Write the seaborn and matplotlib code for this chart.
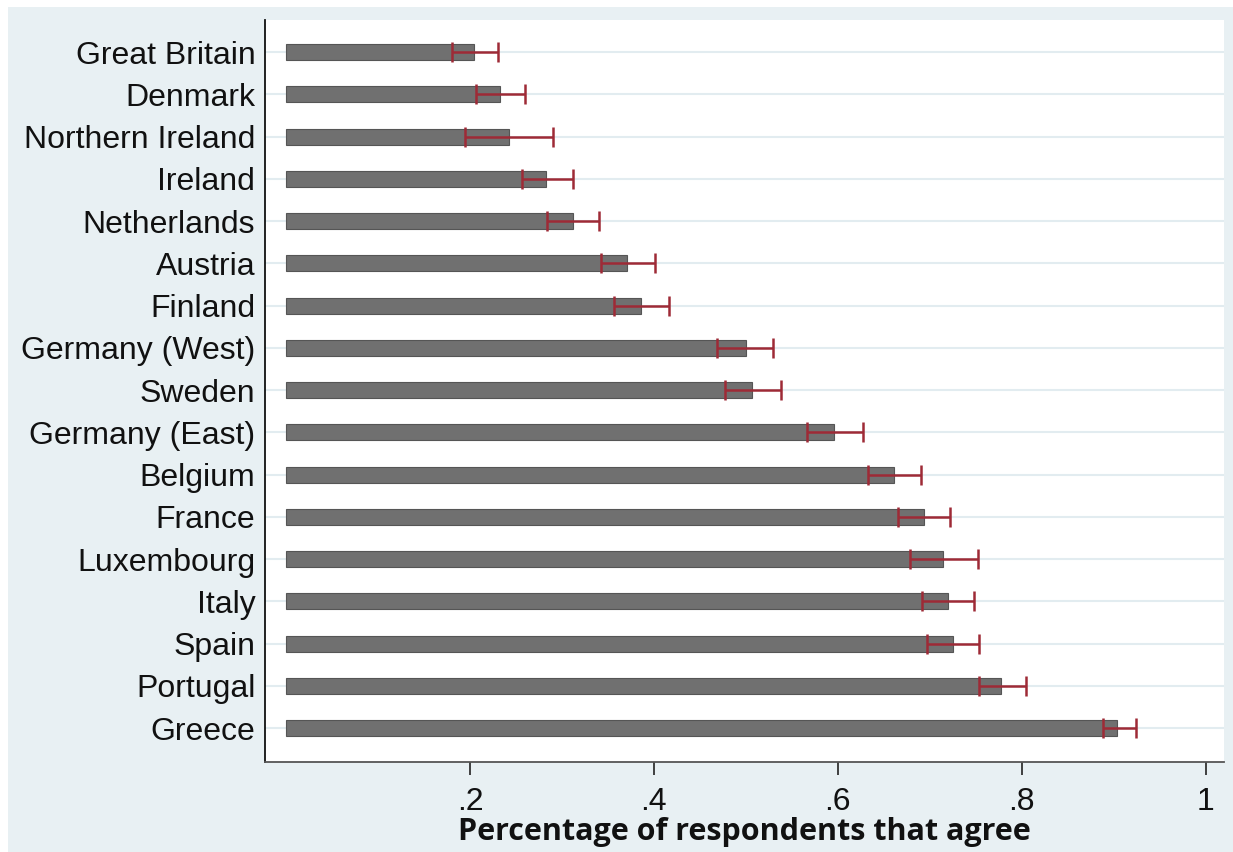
import matplotlib
matplotlib.use("Agg")
import matplotlib.pyplot as plt
from matplotlib.patches import Rectangle
import numpy as np
import pandas as pd
import seaborn as sns

countries = ["Great Britain", "Denmark", "Northern Ireland", "Ireland", "Netherlands",
             "Austria", "Finland", "Germany (West)", "Sweden", "Germany (East)",
             "Belgium", "France", "Luxembourg", "Italy", "Spain", "Portugal", "Greece"]
share_agree = [0.204, 0.233, 0.242, 0.283, 0.312, 0.371, 0.386, 0.500, 0.507, 0.596,
               0.661, 0.694, 0.714, 0.720, 0.725, 0.778, 0.904]
ci_low = [0.180, 0.207, 0.195, 0.256, 0.284, 0.342, 0.357, 0.469, 0.477, 0.566,
          0.633, 0.665, 0.678, 0.692, 0.697, 0.753, 0.888]
ci_high = [0.230, 0.260, 0.290, 0.312, 0.340, 0.401, 0.416, 0.530, 0.538, 0.627,
           0.690, 0.722, 0.752, 0.748, 0.753, 0.805, 0.924]
tick_values = [0.2, 0.4, 0.6, 0.8, 1.0]
tick_labels = [".2", ".4", ".6", ".8", "1"]

df = pd.DataFrame({"country": countries, "share": share_agree,
                   "lo": ci_low, "hi": ci_high})

sns.set_theme(style="white")
plt.rcParams["font.family"] = ["Liberation Sans", "DejaVu Sans"]

bg = "#e8f0f3"
fig = plt.figure(figsize=(12.33, 8.52), dpi=100)
fig.patch.set_facecolor(bg)
# thin white margin along the top and left edges
fig.patches.append(Rectangle((0, 1 - 7 / 852), 1, 7 / 852, transform=fig.transFigure,
                             facecolor="white", edgecolor="none", zorder=-10))
fig.patches.append(Rectangle((0, 0), 8 / 1233, 1, transform=fig.transFigure,
                             facecolor="white", edgecolor="none", zorder=-10))

ax = fig.add_axes([265 / 1233, 1 - 762 / 852, (1224 - 265) / 1233, (762 - 20) / 852])
ax.set_facecolor("white")

sns.barplot(data=df, x="share", y="country", orient="h", color="#707070",
            width=0.38, edgecolor="#555555", linewidth=0.8, saturation=1,
            errorbar=None, ax=ax, zorder=3)

ypos = np.arange(len(countries))
share = df["share"].to_numpy()
ax.errorbar(share, ypos,
            xerr=[share - df["lo"].to_numpy(), df["hi"].to_numpy() - share],
            fmt="none", ecolor="#9e2a36", elinewidth=1.8, capsize=7.5, capthick=1.8,
            zorder=4)

# horizontal grid at each category
for y in ypos:
    ax.axhline(y, color="#e2ecf0", linewidth=1.5, zorder=1)

ax.set_xlim(-0.023, 1.02)
ax.set_ylim(16.8, -0.76)
ax.set_xticks(tick_values)
ax.set_xticklabels(tick_labels)
ax.tick_params(axis="x", which="major", direction="out", length=9, width=1.2,
               color="#222222", labelsize=23, pad=9, bottom=True)
ax.tick_params(axis="y", length=0, labelsize=23, pad=7)
for lab in ax.get_yticklabels() + ax.get_xticklabels():
    lab.set_color("#111111")

ax.set_ylabel("")
ax.set_xlabel("Percentage of respondents that agree", fontsize=22, fontweight="bold",
              family=["Open Sans", "DejaVu Sans"], labelpad=0, color="#111111")

for side in ["top", "right"]:
    ax.spines[side].set_visible(False)
ax.spines["left"].set_color("#111111")
ax.spines["left"].set_linewidth(1.3)
ax.spines["bottom"].set_color("#555555")
ax.spines["bottom"].set_linewidth(1.3)

fig.savefig("out.png", dpi=100, facecolor=fig.get_facecolor())
